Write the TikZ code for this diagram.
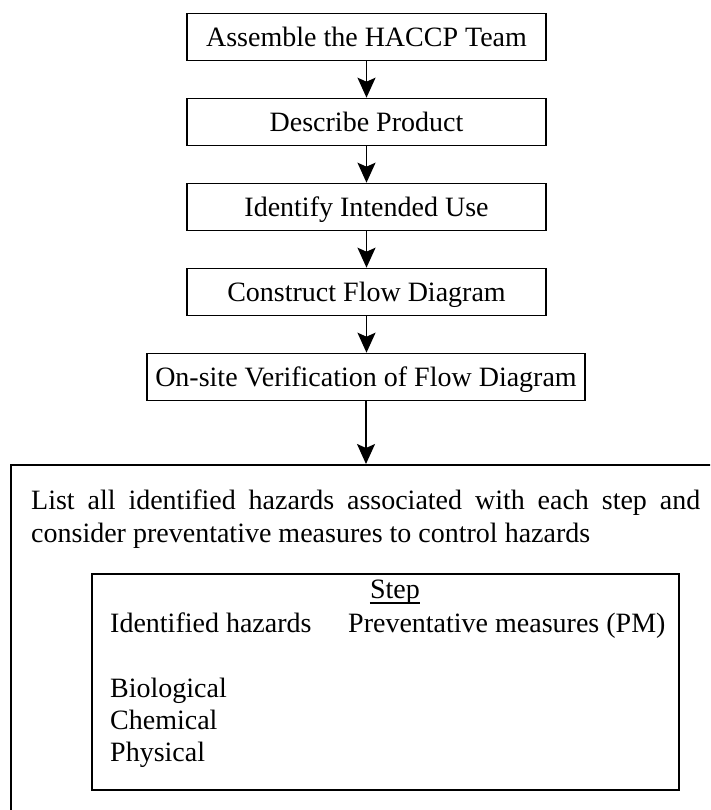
\documentclass[tikz,border=0pt]{standalone}
\usepackage{fontspec}
\setmainfont{Liberation Serif}
\usetikzlibrary{arrows.meta}
\begin{document}
\begin{tikzpicture}[x=1pt,y=-1pt,
  every node/.style={font=\fontsize{28}{32.4}\selectfont},
  stepbox/.style={draw, line width=1.6pt, minimum height=47pt, inner sep=0pt,
    text height=19pt, text depth=0pt},
  panel/.style={draw, line width=1.6pt, inner sep=0pt},
  flow/.style={line width=1.6pt, -{Stealth[length=20pt,width=18pt,inset=4pt]}},
  lbl/.style={anchor=base west, inner sep=0pt}]
\clip (0,0) rectangle (710,810);

% main sequence of preliminary steps
\node[stepbox, minimum width=359pt] (team)    at (366.5,37)  {Assemble the HACCP Team};
\node[stepbox, minimum width=359pt] (product) at (366.5,122) {Describe Product};
\node[stepbox, minimum width=359pt] (use)     at (366.5,207) {Identify Intended Use};
\node[stepbox, minimum width=359pt] (flowdg)  at (366.5,292) {Construct Flow Diagram};
\node[stepbox, minimum width=438pt] (verify)  at (366,377)   {On-site Verification of Flow Diagram};

% hazard analysis panel (runs past the page edge)
\node[panel, minimum width=720pt, minimum height=380pt, anchor=north west] (hazards) at (10,464) {};

\draw[flow] (team.south)    -- (team.south |- product.north);
\draw[flow] (product.south) -- (product.south |- use.north);
\draw[flow] (use.south)     -- (use.south |- flowdg.north);
\draw[flow] (flowdg.south)  -- (flowdg.south |- verify.north);
\draw[flow] (verify.south)  -- (verify.south |- hazards.north);

% first line is set full width, second line ragged (base = last line)
\node[anchor=base west, inner sep=0pt, align=left] (intro) at (31,542)
  {\makebox[669pt][s]{List all identified hazards associated with each step and}\\
   consider preventative measures to control hazards};

% worksheet for one step
\node[panel, minimum width=587pt, minimum height=216pt] (sheet) at (385.5,682) {};
\node[anchor=base, inner sep=0pt] (steplbl) at (395,598) {Step};
\draw[line width=1.4pt] ([yshift=-5pt]steplbl.base west) -- ([yshift=-5pt]steplbl.base east);
\node[lbl] (idh)  at (110,632) {Identified hazards};
\node[lbl] (pm)   at (348,632) {Preventative measures (PM)};
\node[lbl] (bio)  at (110,697) {Biological};
\node[lbl] (chem) at (110,729) {Chemical};
\node[lbl] (phys) at (110,761) {Physical};
\end{tikzpicture}
\end{document}
